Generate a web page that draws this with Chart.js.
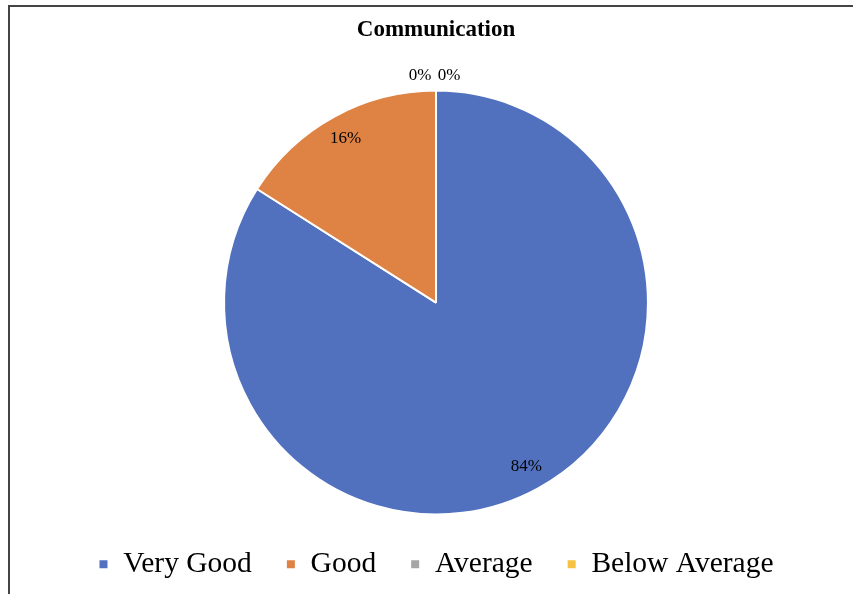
<!DOCTYPE html>
<html>
<head>
<title>Communication</title>
<script src="https://cdn.jsdelivr.net/npm/chart.js@4.4.1/dist/chart.umd.min.js"></script>
<style>
    body { margin:0; background:#fff; }
    #frame
    {
        position:absolute;
        left:8px; top:5px;
        width:845px; height:589px;
        border-left:2px solid #444;
        border-top:2px solid #444;
        box-sizing:border-box;
    }
    #wrap { position:absolute; left:0; top:0; width:853px; height:594px; }
</style>
</head>
<body>
<div id="frame"></div>
<div id="wrap"><canvas id="myChart" width="853" height="594"></canvas></div>
<script>
// data
let kategorie = ['Very Good', 'Good', 'Average', 'Below Average'];
let wartosci = [84, 16, 0, 0];
let kolory = ['#5171bf', '#df8344', '#a5a5a5', '#f5c242'];

// percent labels on / next to slices
const etykiety = {
    id: 'etykiety',
    afterDatasetsDraw(chart) {
        const ctx = chart.ctx;
        const meta = chart.getDatasetMeta(0);
        let suma = wartosci.reduce((a, b) => a + b, 0);
        let zera = 0;
        ctx.save();
        ctx.font = '17px "Liberation Serif", "Times New Roman", serif';
        ctx.fillStyle = '#000';
        ctx.textAlign = 'center';
        ctx.textBaseline = 'middle';
        meta.data.forEach((arc, i) => {
            const p = arc.getProps(['x', 'y', 'startAngle', 'endAngle', 'outerRadius'], true);
            const kat = (p.startAngle + p.endAngle) / 2;
            const tekst = Math.round(wartosci[i] / suma * 100) + '%';
            if (wartosci[i] === 0) {
                // zero slices sit at the top, outside the pie
                const r = p.outerRadius + 15;
                const dx = zera === 0 ? -16 : 13;
                ctx.fillText(tekst, p.x + Math.cos(kat) * r + dx, p.y + Math.sin(kat) * r);
                zera++;
            } else {
                const r = p.outerRadius * 0.885;
                ctx.fillText(tekst, p.x + Math.cos(kat) * r, p.y + Math.sin(kat) * r);
            }
        });
        ctx.restore();
    }
};

var ctx = document.getElementById('myChart').getContext('2d');
var myChart = new Chart(ctx, {
    type: 'pie',
    data: {
        labels: kategorie,
        datasets: [{
            data: wartosci,
            backgroundColor: kolory,
            borderColor: '#fff',
            borderWidth: 2
        }]
    },
    options: {
        responsive: false,
        animation: false,
        layout: { padding: { left: 19, top: 0, bottom: 5 } },
        plugins: {
            title: {
                display: true,
                text: 'Communication',
                color: '#000',
                font: { family: '"Liberation Serif", "Times New Roman", serif', size: 23, weight: 'bold' },
                padding: { top: 16, bottom: 46 }
            },
            legend: {
                position: 'bottom',
                labels: {
                    color: '#000',
                    boxWidth: 10,
                    boxHeight: 10,
                    padding: 34,
                    font: { family: '"Liberation Serif", "Times New Roman", serif', size: 29.5, lineHeight: 0.85 }
                }
            },
            tooltip: { enabled: false }
        }
    },
    plugins: [etykiety]
});
</script>
</body>
</html>
